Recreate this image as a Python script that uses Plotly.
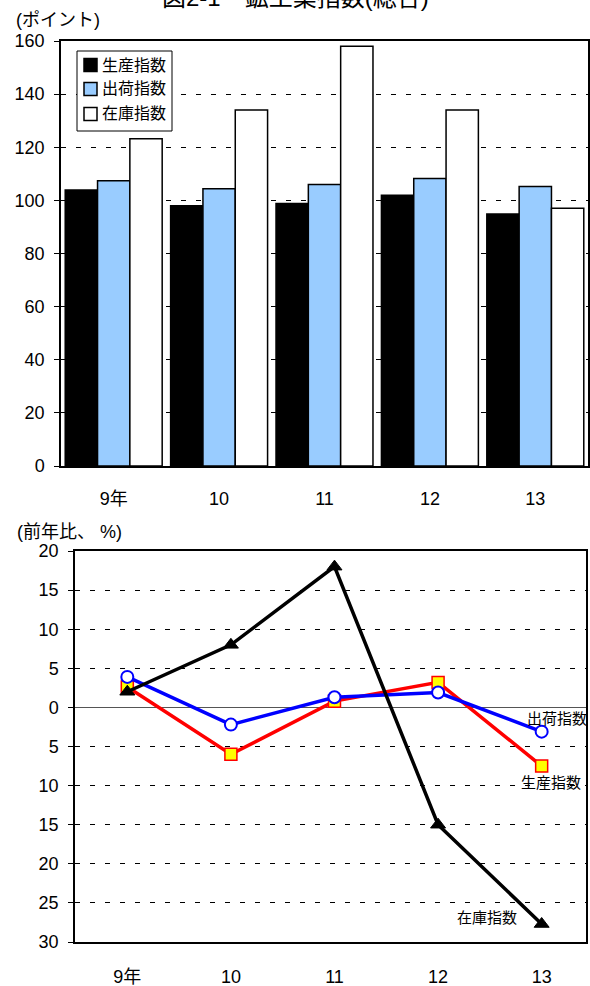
import plotly.graph_objects as go

# ---------------- data ----------------
years = ["9年", "10", "11", "12", "13"]

# 鉱工業指数 (ポイント)
prod_idx = [103.9, 98.0, 98.8, 101.9, 94.9]
ship_idx = [107.4, 104.4, 106.0, 108.2, 105.2]
inv_idx = [123.2, 134.0, 158.0, 134.0, 97.0]

# 前年比 (%)
prod_yoy = [2.6, -6.0, 0.8, 3.2, -7.5]
ship_yoy = [3.9, -2.2, 1.3, 1.9, -3.1]
inv_yoy = [2.0, 8.0, 18.0, -15.0, -27.7]

series_names = ["生産指数", "出荷指数", "在庫指数"]
top_ticks = [0, 20, 40, 60, 80, 100, 120, 140, 160]
bottom_ticks = [20, 15, 10, 5, 0, -5, -10, -15, -20, -25, -30]
bottom_ticktext = ["20", "15", "10", "5", "0", "5", "10", "15", "20", "25", "30"]

# ---------------- layout helpers ----------------
W, H = 590, 986
FONT = "Arial, 'Liberation Sans', 'Noto Sans CJK JP', sans-serif"


def fx(px):
    return px / W


def fy(py):
    return 1 - py / H


fig = go.Figure()

bar_colors = ["#000000", "#99CCFF", "#FFFFFF"]
for name, vals, col in zip(series_names, [prod_idx, ship_idx, inv_idx], bar_colors):
    fig.add_trace(go.Bar(
        x=years, y=vals, name=name, xaxis="x", yaxis="y", showlegend=False,
        marker=dict(color=col, line=dict(color="#000000", width=1.5)),
    ))

# line chart
fig.add_trace(go.Scatter(
    x=years, y=prod_yoy, name=series_names[0], xaxis="x2", yaxis="y2",
    mode="lines+markers", showlegend=False, cliponaxis=False,
    line=dict(color="#FF0000", width=3.5),
    marker=dict(symbol="square", size=12, color="#FFFF00",
                line=dict(color="#FF0000", width=1.5)),
))
fig.add_trace(go.Scatter(
    x=years, y=ship_yoy, name=series_names[1], xaxis="x2", yaxis="y2",
    mode="lines+markers", showlegend=False, cliponaxis=False,
    line=dict(color="#0000FF", width=3.5),
    marker=dict(symbol="circle", size=12, color="#FFFFFF",
                line=dict(color="#0000FF", width=2)),
))
fig.add_trace(go.Scatter(
    x=years, y=inv_yoy, name=series_names[2], xaxis="x2", yaxis="y2",
    mode="lines+markers", showlegend=False, cliponaxis=False,
    line=dict(color="#000000", width=3.5),
    marker=dict(symbol="triangle-up", size=13, color="#000000",
                line=dict(color="#000000", width=1)),
))

grid_common = dict(
    showgrid=True, gridcolor="#000000", gridwidth=1, griddash="5px,10px",
    showline=True, linecolor="#000000", linewidth=1.5, mirror=True,
    ticks="outside", ticklen=5, tickcolor="#000000", tickwidth=1,
    tickfont=dict(family=FONT, size=18, color="#000000"),
    ticklabelstandoff=6, automargin=False,
)

fig.update_layout(
    width=W, height=H,
    margin=dict(l=0, r=0, t=0, b=0),
    paper_bgcolor="white", plot_bgcolor="white",
    font=dict(family=FONT, size=16, color="#000000"),
    barmode="group", bargap=0.08, bargroupgap=0,
    showlegend=False,
    xaxis=dict(
        domain=[fx(61), fx(588)], anchor="y", type="category",
        range=[-0.5, 4.5], showgrid=False, showline=True,
        linecolor="#000000", linewidth=1.5, mirror=True, ticks="",
        tickfont=dict(family=FONT, size=18, color="#000000"),
        ticklabelstandoff=16, automargin=False,
    ),
    yaxis=dict(
        domain=[fy(466), fy(41)], anchor="x", range=[0, 160],
        tickvals=top_ticks, zeroline=False, **grid_common,
    ),
    xaxis2=dict(
        domain=[fx(75), fx(586)], anchor="y2", type="category",
        range=[-0.505, 4.428], showgrid=False, showline=True,
        linecolor="#000000", linewidth=1.5, mirror=True, ticks="",
        tickfont=dict(family=FONT, size=18, color="#000000"),
        ticklabelstandoff=18, automargin=False,
    ),
    yaxis2=dict(
        domain=[fy(942), fy(551)], anchor="x2", range=[-30, 20],
        tickvals=bottom_ticks, ticktext=bottom_ticktext,
        zeroline=True, zerolinecolor="#555555", zerolinewidth=1,
        **grid_common,
    ),
)

# ---- legend box (drawn in paper coordinates) ----
shapes = [dict(type="rect", xref="paper", yref="paper",
               x0=fx(77), x1=fx(172), y0=fy(131), y1=fy(51),
               line=dict(color="#000000", width=1), fillcolor="white", layer="above")]
legend_rows = [65, 89, 114]
for name, col, yc in zip(series_names, bar_colors, legend_rows):
    shapes.append(dict(type="rect", xref="paper", yref="paper",
                       x0=fx(84), x1=fx(97), y0=fy(yc + 6.5), y1=fy(yc - 6.5),
                       line=dict(color="#000000", width=1.5), fillcolor=col, layer="above"))

annotations = [
    dict(text="図2-1　鉱工業指数(総合)", x=fx(295), y=fy(-2), xref="paper", yref="paper",
         xanchor="center", yanchor="middle", showarrow=False,
         font=dict(family=FONT, size=24)),
    dict(text="(ポイント)", x=fx(58), y=fy(20), xref="paper", yref="paper",
         xanchor="center", yanchor="middle", showarrow=False,
         font=dict(family=FONT, size=18)),
    dict(text="(前年比、 %)", x=fx(69), y=fy(532), xref="paper", yref="paper",
         xanchor="center", yanchor="middle", showarrow=False,
         font=dict(family=FONT, size=18)),
    dict(text="出荷指数", x=fx(557), y=fy(718), xref="paper", yref="paper",
         xanchor="center", yanchor="middle", showarrow=False,
         font=dict(family=FONT, size=15)),
    dict(text="生産指数", x=fx(551), y=fy(782), xref="paper", yref="paper",
         xanchor="center", yanchor="middle", showarrow=False,
         font=dict(family=FONT, size=15)),
    dict(text="在庫指数", x=fx(487), y=fy(917), xref="paper", yref="paper",
         xanchor="center", yanchor="middle", showarrow=False,
         font=dict(family=FONT, size=15)),
]
for name, yc in zip(series_names, legend_rows):
    annotations.append(dict(text=name, x=fx(100), y=fy(yc), xref="paper", yref="paper",
                            xanchor="left", yanchor="middle", showarrow=False,
                            font=dict(family=FONT, size=16)))

fig.update_layout(shapes=shapes, annotations=annotations)

fig.write_html(
    "out.html",
    config={"displayModeBar": False},
    post_script="document.body.style.margin='0';document.body.style.overflow='hidden';",
)
